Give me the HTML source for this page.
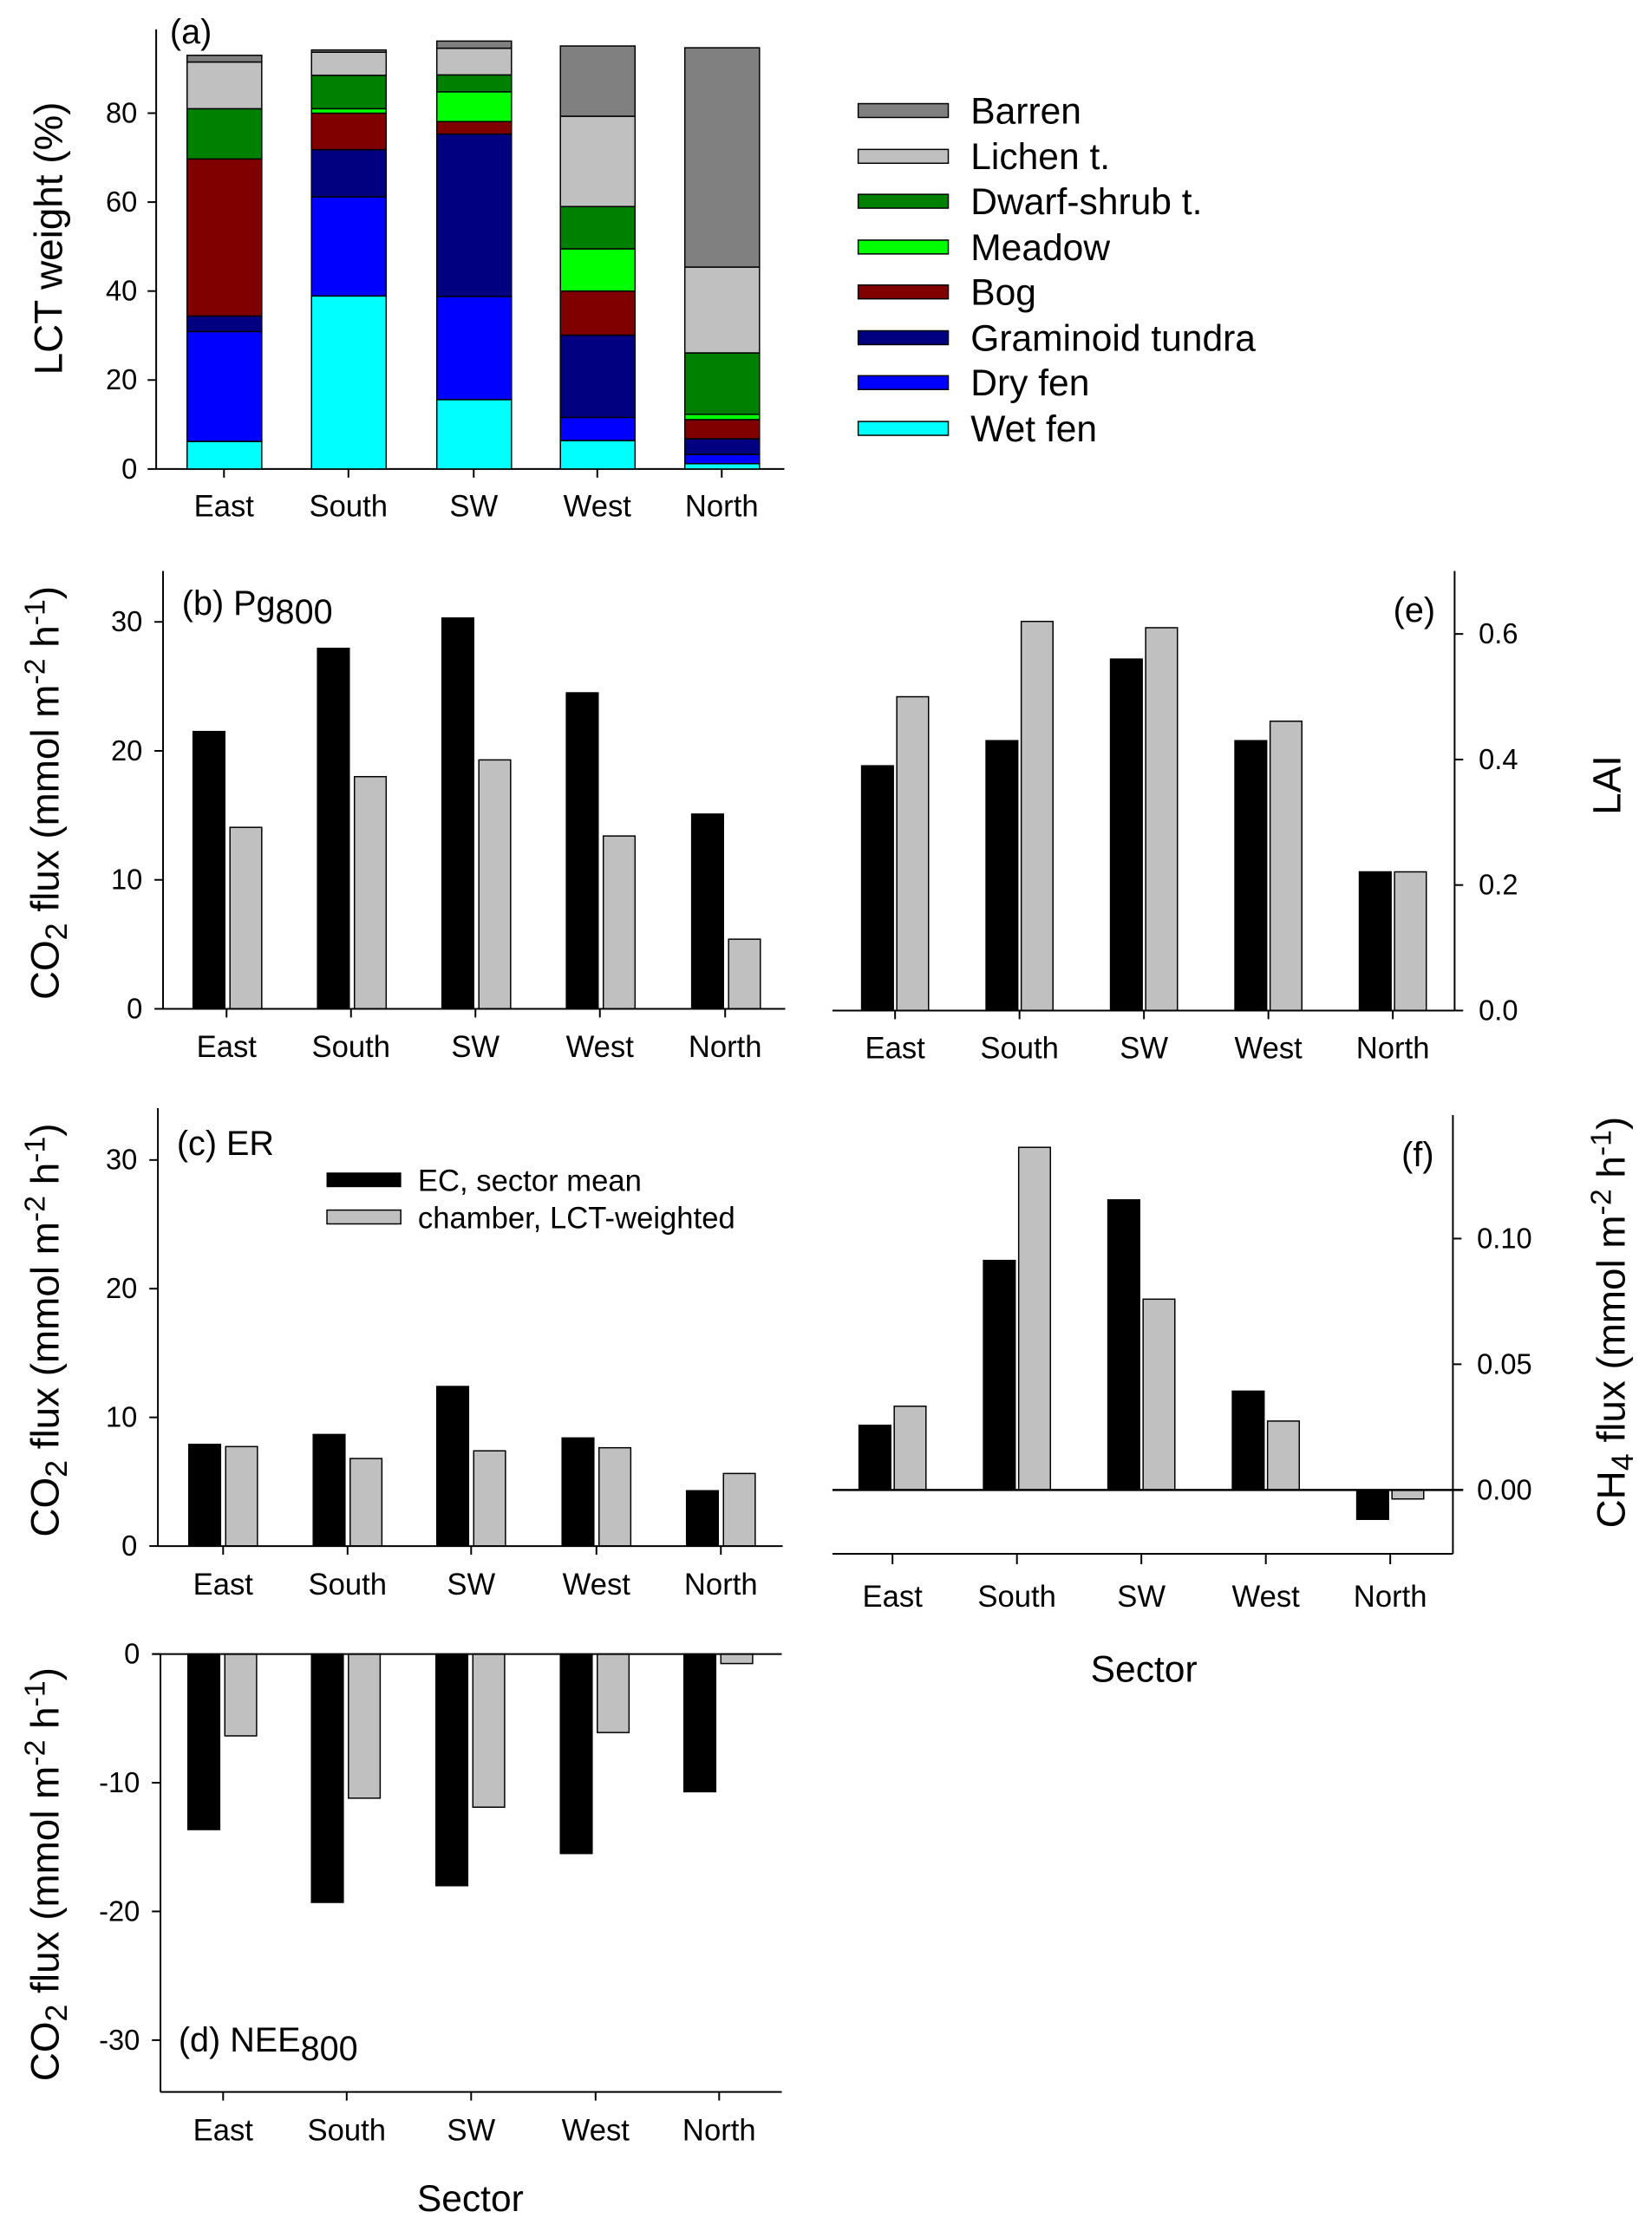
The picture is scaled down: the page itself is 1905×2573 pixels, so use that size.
<!DOCTYPE html>
<html><head><meta charset="utf-8"><style>
body{margin:0;background:#fff}
svg{display:block;font-family:"Liberation Sans",Arial,sans-serif}
</style></head><body>
<svg id="fig" width="1905" height="2573" viewBox="0 0 1925 2583" preserveAspectRatio="none" xmlns="http://www.w3.org/2000/svg"></svg>
<script>
const sectors = ["East","South","SW","West","North"];
const lctNames = ["Wet fen","Dry fen","Graminoid tundra","Bog","Meadow","Dwarf-shrub t.","Lichen t.","Barren"];
const lctColors = ["#00ffff","#0000ff","#000080","#800000","#00ff00","#008000","#c0c0c0","#808080"];
const wetFen = [6.2,38.9,15.6,6.4,1.2];
const dryFen = [24.7,22.3,23.2,5.2,2.1];
const graminoid = [3.5,10.6,36.5,18.5,3.5];
const bog = [35.3,8.2,2.8,9.9,4.3];
const meadow = [0,1.0,6.7,9.5,1.2];
const dwarfShrub = [11.3,7.5,3.8,9.5,13.8];
const lichen = [10.5,5.2,6.0,20.3,19.3];
const barren = [1.5,0.5,1.6,15.8,49.3];
const pgEC = [21.5,27.95,30.3,24.5,15.1];
const pgCh = [14.07,18.0,19.3,13.4,5.4];
const laiEC = [0.39,0.43,0.56,0.43,0.221];
const laiCh = [0.50,0.62,0.61,0.461,0.221];
const erEC = [7.9,8.67,12.4,8.4,4.3];
const erCh = [7.73,6.8,7.4,7.64,5.64];
const neeEC = [-13.64,-19.3,-18.0,-15.5,-10.7];
const neeCh = [-6.36,-11.2,-11.9,-6.1,-0.74];
const ch4EC = [0.0257,0.0913,0.1154,0.0393,-0.0117];
const ch4Ch = [0.0333,0.1363,0.0759,0.0274,-0.0036];
const ticksA = [0,20,40,60,80];
const ticksFlux = [0,10,20,30];
const ticksNee = [0,-10,-20,-30];
const ticksLai = ["0.0","0.2","0.4","0.6"];
const ticksCh4 = ["0.00","0.05","0.10"];

const NS="http://www.w3.org/2000/svg", svg=document.getElementById('fig');
function el(tag, at, parent){const e=document.createElementNS(NS,tag);for(const k in at)e.setAttribute(k,at[k]);(parent||svg).appendChild(e);return e;}
function txt(s,x,y,size,anchor,parent){const t=el('text',{x:x,y:y,'font-size':size,'text-anchor':anchor||'middle',fill:'#000'},parent);t.textContent=s;return t;}
function line(x1,y1,x2,y2,w,parent){return el('line',{x1:x1,y1:y1,x2:x2,y2:y2,stroke:'#000','stroke-width':w||2},parent);}
function lin(d0,d1,r0,r1){return v=>r0+(v-d0)*(r1-r0)/(d1-d0);}

// ---------- panel a
{
 const g=el('g',{});
 
 
 const y=lin(0,80,543,131);
 const xs=[261,406,552,696,841];
 line(182,34,182,543,2,g); line(182,543,914,543,2,g);
 ticksA.forEach(t=>{line(172,y(t),182,y(t),2,g);txt(String(t),160,y(t)+11,33,'end',g);});
 xs.forEach((x,i)=>{line(x,543,x,553,2,g);txt(sectors[i],x,598,35,'middle',g);});
 const series=[wetFen,dryFen,graminoid,bog,meadow,dwarfShrub,lichen,barren];
 sectors.forEach((s,i)=>{
  let base=0;
  series.forEach((ser,k)=>{
   const v=ser[i]; if(v<=0)return;
   const r=el('rect',{x:xs[i]-43,y:y(base+v),width:87,height:y(base)-y(base+v),fill:lctColors[k],stroke:'#000','stroke-width':1.5},g);
   
   
   base+=v;
  });
 });
 txt('(a)',198,50,40,'start',g);
 const yt=txt('LCT weight (%)',0,0,46,'middle',g);
 yt.setAttribute('transform','translate(72,276) rotate(-90)');
 
 
 const ly=[128,181,233,286,338,391,443,496];
 for(let k=7;k>=0;k--){
  const row=7-k;
  const le=el('g',{},g);
  
  
  el('rect',{x:1000,y:ly[row]-8,width:105,height:16,fill:lctColors[k],stroke:'#000','stroke-width':1.5},le);
  txt(lctNames[k],1131,ly[row]+15,43,'start',le);
 }
}

function fluxTitle(x,y,parent,gas){
 const t=el('text',{'font-size':46,'text-anchor':'middle',transform:`translate(${x},${y}) rotate(-90)`},parent);
 t.innerHTML=`${gas==='CH'?'CH':'CO'}<tspan dy="10" font-size="36">${gas==='CH'?'4':'2'}</tspan><tspan dy="-10"> flux (mmol m</tspan><tspan dy="-16" font-size="34">-2</tspan><tspan dy="16"> h</tspan><tspan dy="-16" font-size="34">-1</tspan><tspan dy="16">)</tspan>`;
 
 
 return t;
}
function pairBars(g,xs,y,ec,ch,name,zero,off1,off2,w){
 xs.forEach((x,i)=>{
  [[ec,'#000','ec',off1],[ch,'#c0c0c0','chamber',off2]].forEach(([arr,col,nm,off])=>{
   const v=arr[i];const y0=y(zero),y1=y(v);
   const r=el('rect',{x:x+off,y:Math.min(y0,y1),width:w,height:Math.abs(y1-y0),fill:col,stroke:'#000','stroke-width':1.5},g);
   
   
  });
 });
}

// ---------- panel b
{
 const g=el('g',{});
 
 
 const y=lin(0,30,1168,720); const xs=[264,409,554,699,845];
 pairBars(g,xs,y,pgEC,pgCh,'pg',0,-39,4,37);
 line(190,661,190,1168,2,g); line(190,1168,915,1168,2,g);
 ticksFlux.forEach(t=>{line(180,y(t),190,y(t),2,g);txt(String(t),166,y(t)+11,33,'end',g);});
 xs.forEach((x,i)=>{line(x,1168,x,1178,2,g);txt(sectors[i],x,1224,35,'middle',g);});
 const t=el('text',{x:212,y:712,'font-size':40},g);t.innerHTML='(b) Pg<tspan dy="10">800</tspan>';
 fluxTitle(68,918,g,'CO');
}
// ---------- panel e
{
 const g=el('g',{});
 
 
 const y=lin(0,0.6,1170,734); const xs=[1043,1188,1333,1478,1623];
 pairBars(g,xs,y,laiEC,laiCh,'lai',0,-39,2,37);
 line(1695,661,1695,1170,2,g); line(970,1170,1695,1170,2,g);
 ticksLai.forEach(t=>{const v=parseFloat(t);line(1695,y(v),1705,y(v),2,g);txt(t,1723,y(v)+11,33,'start',g);});
 xs.forEach((x,i)=>{line(x,1170,x,1180,2,g);txt(sectors[i],x,1225,35,'middle',g);});
 txt('(e)',1648,720,40,'middle',g);
 const lt=txt('LAI',0,0,46,'middle',g);lt.setAttribute('transform','translate(1888,909) rotate(-90)');
 
 
}
// ---------- panel c
{
 const g=el('g',{});
 
 
 const y=lin(0,30,1790,1343); const xs=[260,405,549,695,840];
 pairBars(g,xs,y,erEC,erCh,'er',0,-40,3,37);
 line(184,1283,184,1790,2,g); line(184,1790,912,1790,2,g);
 ticksFlux.forEach(t=>{line(174,y(t),184,y(t),2,g);txt(String(t),160,y(t)+11,33,'end',g);});
 xs.forEach((x,i)=>{line(x,1790,x,1800,2,g);txt(sectors[i],x,1846,35,'middle',g);});
 txt('(c) ER',206,1337,40,'start',g);
 fluxTitle(68,1540,g,'CO');
 const l1=el('g',{},g);
 el('rect',{x:381,y:1358,width:86,height:16,fill:'#000',stroke:'#000'},l1);txt('EC, sector mean',487,1379,35,'start',l1);
 const l2=el('g',{},g);
 el('rect',{x:381,y:1401,width:86,height:16,fill:'#c0c0c0',stroke:'#000','stroke-width':1.5},l2);txt('chamber, LCT-weighted',487,1422,35,'start',l2);
}
// ---------- panel f
{
 const g=el('g',{});
 
 
 const y=lin(0,0.1,1725,1434); const xs=[1040,1185,1330,1475,1620];
 pairBars(g,xs,y,ch4EC,ch4Ch,'ch4',0,-39,2,37);
 line(1693,1291,1693,1799,2,g); line(970,1799,1693,1799,2,g); line(970,1725,1705,1725,2.5,g);
 ticksCh4.forEach(t=>{const v=parseFloat(t);line(1693,y(v),1703,y(v),2,g);txt(t,1721,y(v)+11,33,'start',g);});
 xs.forEach((x,i)=>{line(x,1799,x,1811,2,g);txt(sectors[i],x,1860,35,'middle',g);});
 txt('(f)',1652,1350,40,'middle',g);
 txt('Sector',1333,1947,43,'middle',g);
 fluxTitle(1893,1531,g,'CH');
}
// ---------- panel d
{
 const g=el('g',{});
 
 
 const y=lin(0,-10,1915,2064); const xs=[260,404,549,694,838];
 pairBars(g,xs,y,neeEC,neeCh,'nee',0,-41,2,37);
 line(178,1915,911,1915,2,g); line(187,1915,187,2422,2,g); line(187,2422,911,2422,2,g);
 ticksNee.forEach(t=>{line(177,y(t),187,y(t),2,g);txt(String(t),163,y(t)+11,33,'end',g);});
 xs.forEach((x,i)=>{line(x,2422,x,2432,2,g);txt(sectors[i],x,2478,35,'middle',g);});
 const t=el('text',{x:208,y:2375,'font-size':40},g);t.innerHTML='(d) NEE<tspan dy="10">800</tspan>';
 txt('Sector',548,2560,43,'middle',g);
 fluxTitle(68,2170,g,'CO');
}
</script>
</body></html>
